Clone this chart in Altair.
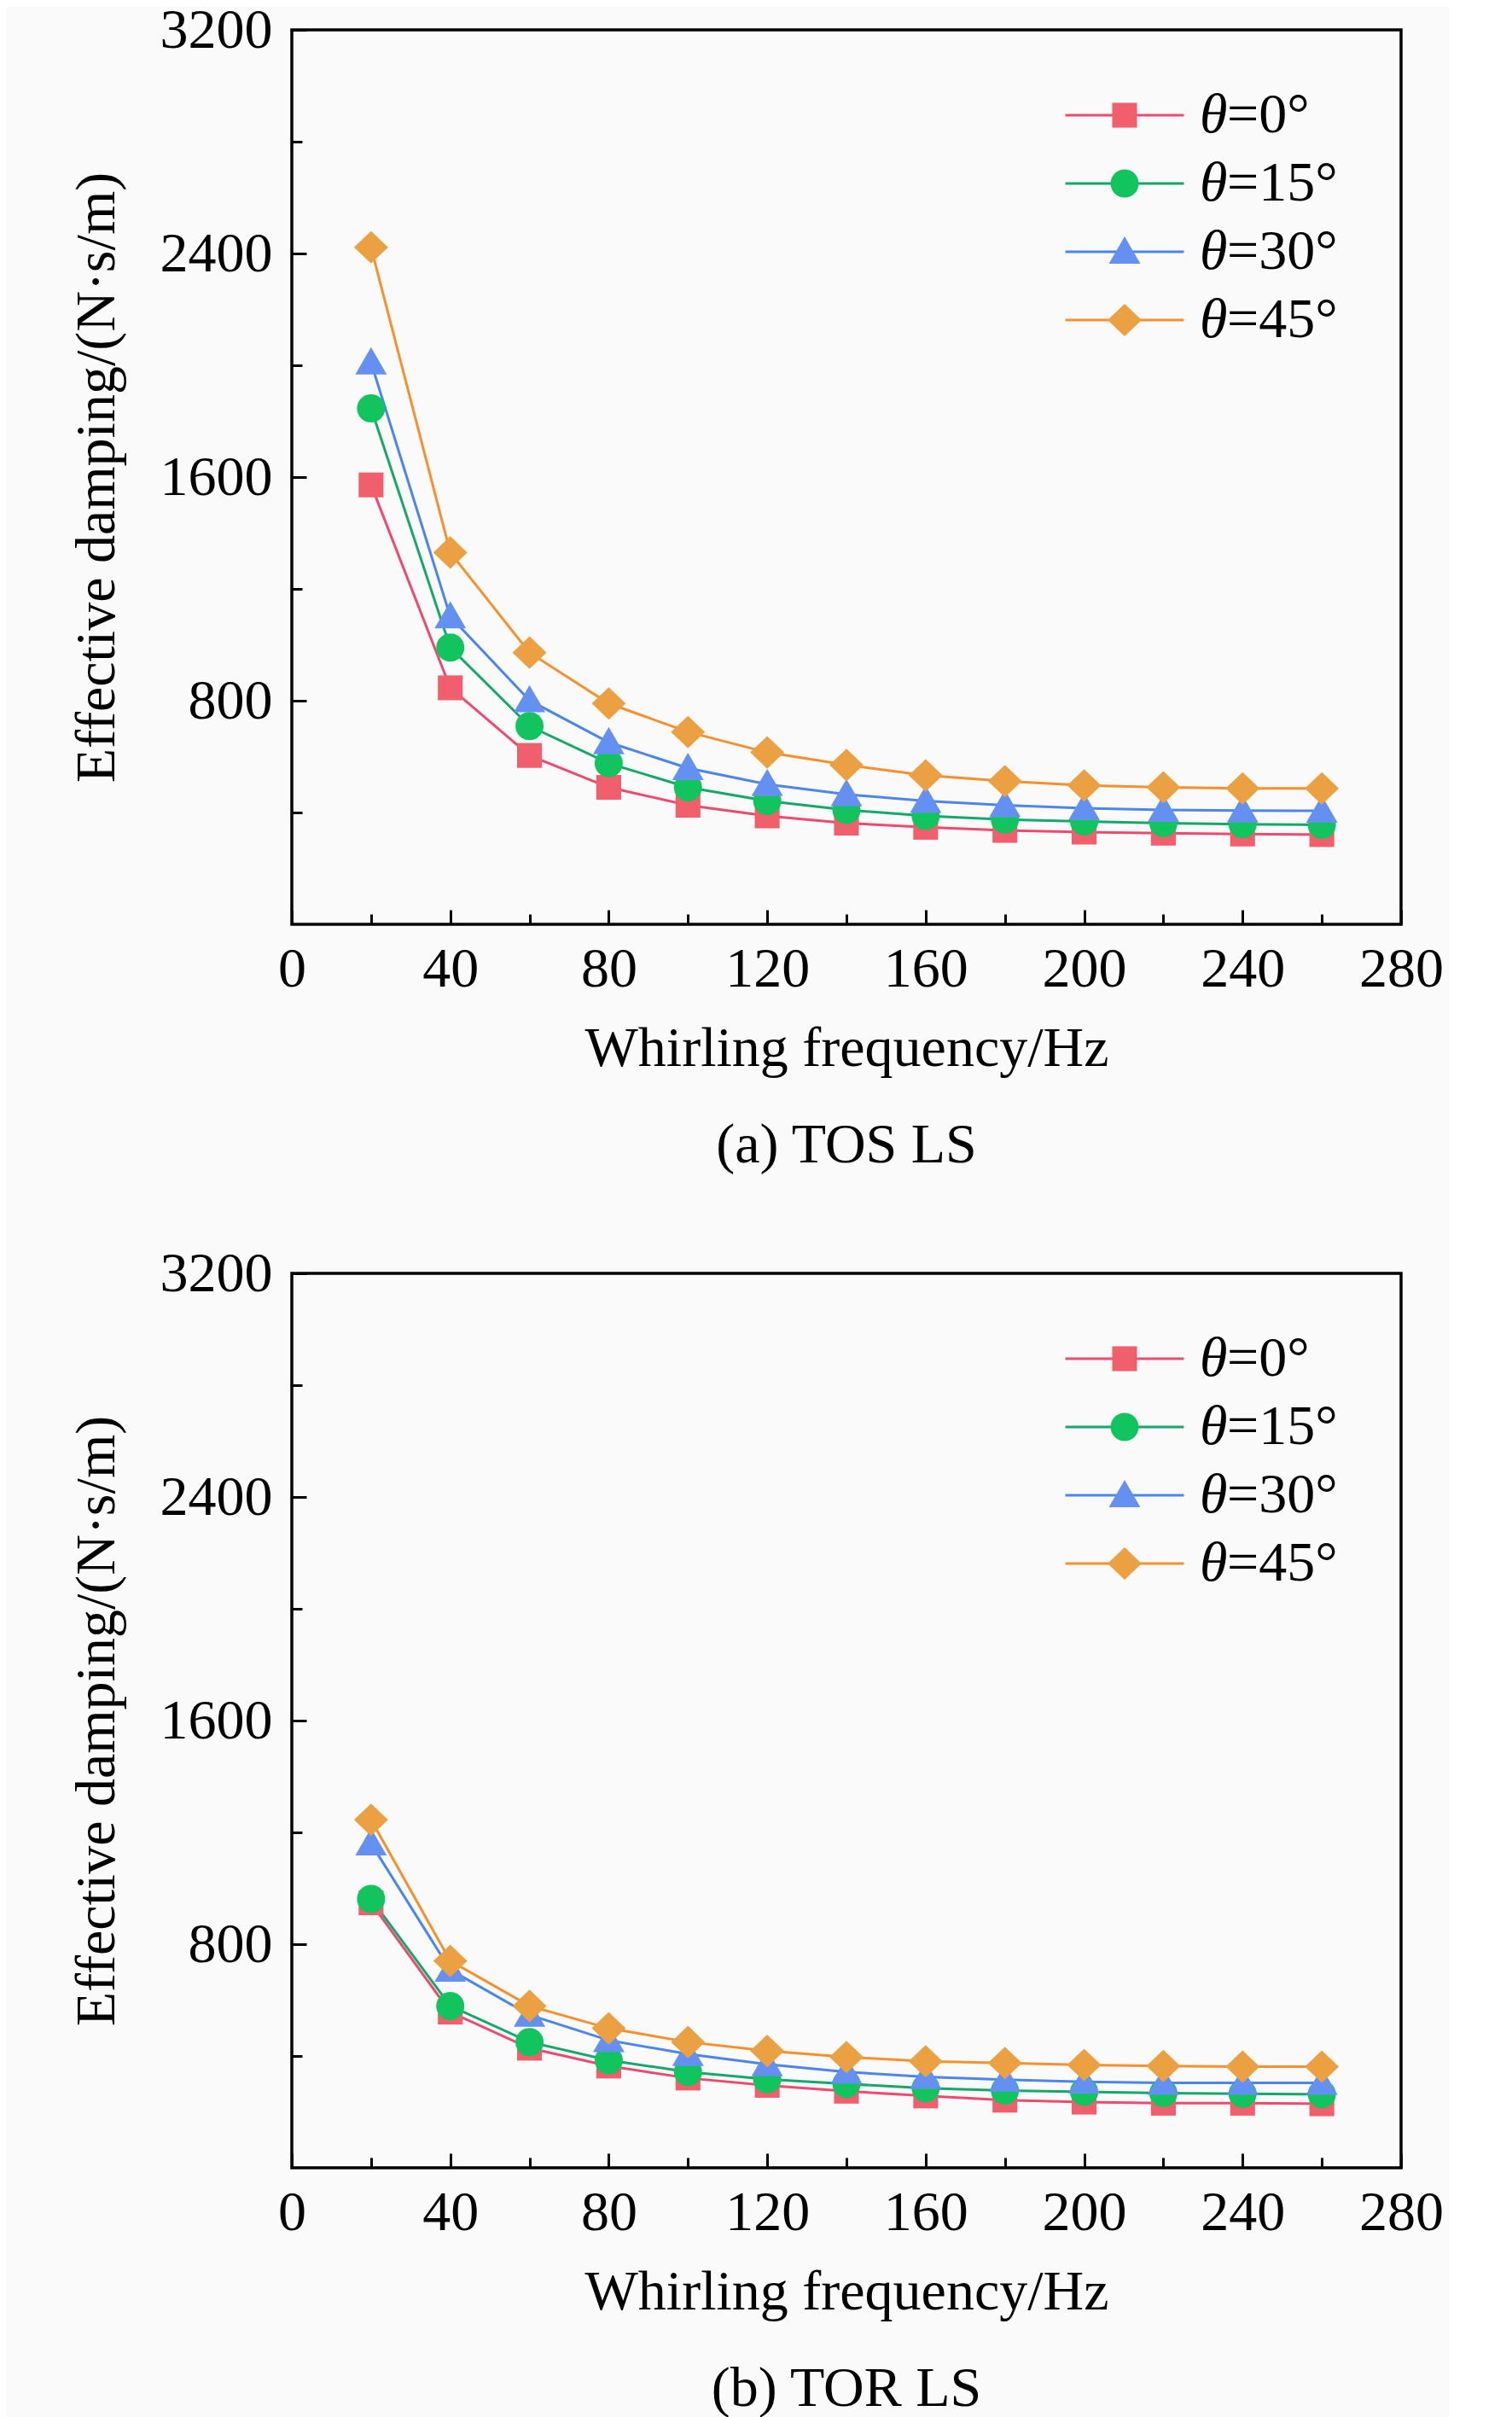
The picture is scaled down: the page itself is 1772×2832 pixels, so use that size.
import altair as alt
import pandas as pd

freq = [20, 40, 60, 80, 100, 120, 140, 160, 180, 200, 220, 240, 260]
angles = ["0°", "15°", "30°", "45°"]

# (a) TOS LS
tos_0 = [1572, 846, 604, 490, 426, 388, 362, 347, 336, 330, 326, 323, 321]
tos_15 = [1846, 990, 709, 576, 490, 441, 409, 388, 375, 368, 362, 358, 356]
tos_30 = [2010, 1101, 801, 651, 559, 501, 465, 441, 426, 415, 409, 407, 406]
tos_45 = [2422, 1330, 972, 790, 688, 615, 570, 533, 512, 497, 490, 486, 486]

# (b) TOR LS
tor_0 = [948, 557, 428, 364, 321, 295, 274, 257, 242, 235, 231, 231, 229]
tor_15 = [962, 579, 450, 385, 343, 317, 300, 285, 276, 272, 267, 265, 263]
tor_30 = [1160, 708, 547, 456, 407, 370, 343, 325, 315, 308, 304, 304, 304]
tor_45 = [1245, 740, 579, 499, 450, 418, 396, 381, 375, 368, 364, 362, 362]

x_major = [0, 40, 80, 120, 160, 200, 240, 280]
x_minor = [20, 60, 100, 140, 180, 220, 260]
y_major = [800, 1600, 2400, 3200]
y_minor = [400, 1200, 2000, 2800]

line_colors = ["#ee4a70", "#14a86c", "#4a86ee", "#f7902c"]
fill_colors = ["#f25f6c", "#12c45e", "#6490f2", "#eba042"]
shapes = [
    "M-0.97,-0.97H0.97V0.97H-0.97Z",
    "M1.1,0A1.1,1.1,0,1,1,-1.1,0A1.1,1.1,0,1,1,1.1,0Z",
    "M0,-1.2L1.23,0.93L-1.23,0.93Z",
    "M0,-1.27L1.33,0L0,1.27L-1.33,0Z",
]
legend_line = "M-4.63,0H4.63"

FONT = "Liberation Serif"
FS = 66
W, H = 1300, 1048


def frame(series_list):
    rows = []
    for a, series in zip(angles, series_list):
        for f, v in zip(freq, series):
            rows.append({"freq": f, "damping": v, "angle": a, "marker": a})
    return pd.DataFrame(rows)


def panel(df, caption):
    base = alt.Chart(df)
    xs = alt.Scale(domain=[0, 280], nice=False, zero=False)
    ys = alt.Scale(domain=[0, 3200], nice=False, zero=False)

    x_axis_major = alt.Axis(
        values=x_major, orient="bottom", offset=-17, tickSize=17, tickWidth=3,
        tickColor="black", domain=False, grid=False, labelPadding=20,
        titlePadding=28, labelFlush=False, format="d",
        title="Whirling frequency/Hz",
    )
    y_axis_major = alt.Axis(
        values=y_major, orient="left", offset=-17, tickSize=17, tickWidth=3,
        tickColor="black", domain=False, grid=False, labelPadding=23,
        titlePadding=40, labelFlush=False, format="d",
        title="Effective damping/(N·s/m)",
    )
    x_axis_minor = alt.Axis(
        values=x_minor, orient="bottom", offset=-12, tickSize=12, tickWidth=3,
        tickColor="black", domain=False, grid=False, labels=False, title=None,
    )
    y_axis_minor = alt.Axis(
        values=y_minor, orient="left", offset=-12, tickSize=12, tickWidth=3,
        tickColor="black", domain=False, grid=False, labels=False, title=None,
    )

    line_legend = alt.Legend(
        orient="none", legendX=943, legendY=67, title=None,
        symbolType=legend_line, symbolSize=900, symbolStrokeWidth=3,
        symbolFillColor="transparent",
        labelFont=FONT, labelFontSize=FS, labelOffset=87,
        labelExpr="'=' + datum.label", rowPadding=14, padding=0,
        labelColor="black",
    )
    marker_legend = alt.Legend(
        orient="none", legendX=943, legendY=67, title=None,
        symbolSize=900, symbolStrokeWidth=0, symbolOpacity=1,
        labelFont=FONT, labelFontSize=FS, labelFontStyle="italic",
        labelOffset=55, labelExpr="'θ'", rowPadding=14, padding=0,
        labelColor="black",
    )

    lines = base.mark_line(strokeWidth=3).encode(
        x=alt.X("freq:Q", scale=xs, axis=x_axis_major),
        y=alt.Y("damping:Q", scale=ys, axis=y_axis_major),
        stroke=alt.Stroke(
            "angle:N", sort=angles,
            scale=alt.Scale(domain=angles, range=line_colors),
            legend=line_legend,
        ),
        order=alt.Order("freq:Q"),
    )
    points = base.mark_point(filled=True, size=900, opacity=1).encode(
        x=alt.X("freq:Q", scale=xs, axis=x_axis_minor),
        y=alt.Y("damping:Q", scale=ys, axis=y_axis_minor),
        fill=alt.Fill(
            "marker:N", sort=angles,
            scale=alt.Scale(domain=angles, range=fill_colors),
            legend=marker_legend,
        ),
        shape=alt.Shape(
            "marker:N", sort=angles,
            scale=alt.Scale(domain=angles, range=shapes),
            legend=marker_legend,
        ),
    )
    return (
        alt.layer(lines, points)
        .resolve_axis(x="independent", y="independent")
        .resolve_legend(stroke="independent", fill="independent", shape="independent")
        .properties(
            width=W, height=H,
            title=alt.TitleParams(
                text=caption, orient="bottom", offset=49, anchor="middle",
                font=FONT, fontSize=FS, fontWeight="normal", color="black",
            ),
        )
    )


top = panel(frame([tos_0, tos_15, tos_30, tos_45]), "(a) TOS LS")
bottom = panel(frame([tor_0, tor_15, tor_30, tor_45]), "(b) TOR LS")

chart = (
    alt.vconcat(top, bottom, spacing=80)
    .configure(background="#fafafa", padding={"left": 70, "top": -8, "right": 5, "bottom": 5})
    .configure_view(stroke="black", strokeWidth=3.5)
    .configure_axis(
        labelFont=FONT, labelFontSize=FS, labelColor="black",
        titleFont=FONT, titleFontSize=FS, titleColor="black",
        titleFontWeight="normal",
    )
)

chart.save("out.html", embed_options={"renderer": "svg", "actions": False})
